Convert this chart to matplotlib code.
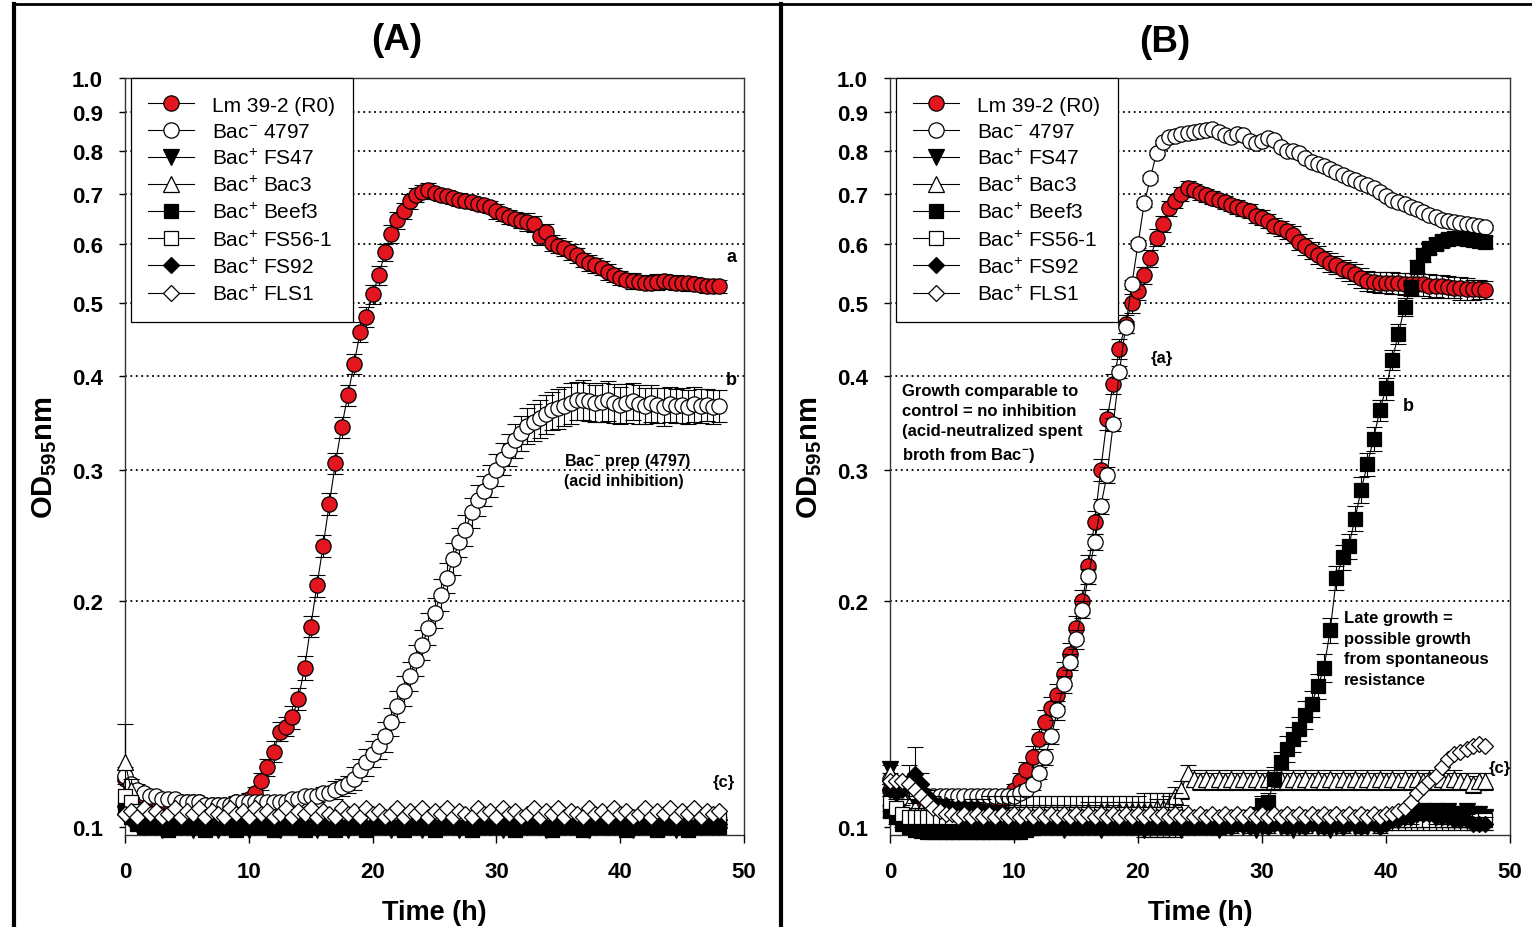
#!/usr/bin/env python3
# -*- coding: utf-8 -*-
# ----------------------------------------------------------------------------
# Growth curves of Lm 39-2 (R0) with spent broth preparations, two panels
# (A) and (B), OD595nm on a log axis versus time.
# ----------------------------------------------------------------------------

import matplotlib
matplotlib.use("Agg")
import matplotlib.pyplot as plt
import numpy as np
from matplotlib.lines import Line2D
from matplotlib.ticker import NullLocator

plt.rcParams["font.family"] = ["Liberation Sans", "DejaVu Sans"]
plt.rcParams["mathtext.fontset"] = "custom"
plt.rcParams["mathtext.rm"] = "Liberation Sans"
plt.rcParams["mathtext.bf"] = "Liberation Sans:bold"
plt.rcParams["mathtext.it"] = "Liberation Sans:italic"

# -----------------------------------------------------------------------------
# Data (sampling every 0.5 h, 0 .. 48 h)
# -----------------------------------------------------------------------------

TIME_H = np.arange(0, 48.5, 0.5)

LABELS = [
    "Lm 39-2 (R0)",
    r"Bac$^{-}$ 4797",
    r"Bac$^{+}$ FS47",
    r"Bac$^{+}$ Bac3",
    r"Bac$^{+}$ Beef3",
    r"Bac$^{+}$ FS56-1",
    r"Bac$^{+}$ FS92",
    r"Bac$^{+}$ FLS1",
]

Y_TICKS = [0.1, 0.2, 0.3, 0.4, 0.5, 0.6, 0.7, 0.8, 0.9, 1.0]
Y_TICK_LABELS = ["0.1", "0.2", "0.3", "0.4", "0.5", "0.6", "0.7", "0.8", "0.9", "1.0"]
GRID_VALUES = [0.2, 0.3, 0.4, 0.5, 0.6, 0.7, 0.8, 0.9]
X_TICKS = [0, 10, 20, 30, 40, 50]

# ---- panel (A) --------------------------------------------------------------
A_LM = [
    0.116, 0.113, 0.111, 0.110, 0.109, 0.109, 0.108, 0.108, 0.108, 0.108,
    0.108, 0.108, 0.108, 0.107, 0.107, 0.107, 0.107, 0.107, 0.108, 0.108,
    0.109, 0.111, 0.115, 0.120, 0.126, 0.134, 0.136, 0.140, 0.148, 0.163,
    0.185, 0.210, 0.237, 0.270, 0.306, 0.342, 0.377, 0.415, 0.458, 0.480,
    0.514, 0.545, 0.585, 0.619, 0.646, 0.664, 0.685, 0.697, 0.704, 0.708,
    0.702, 0.697, 0.695, 0.691, 0.688, 0.686, 0.683, 0.679, 0.676, 0.673,
    0.664, 0.658, 0.653, 0.649, 0.645, 0.642, 0.638, 0.616, 0.622, 0.602,
    0.597, 0.592, 0.586, 0.580, 0.572, 0.567, 0.562, 0.557, 0.551, 0.546,
    0.541, 0.538, 0.536, 0.534, 0.533, 0.533, 0.534, 0.536, 0.534, 0.533,
    0.533, 0.532, 0.531, 0.529, 0.528, 0.528, 0.527,
]
A_LM_ERR = [
    0.001, 0.001, 0.001, 0.001, 0.001, 0.001, 0.001, 0.001, 0.001, 0.001,
    0.001, 0.001, 0.001, 0.001, 0.001, 0.001, 0.001, 0.001, 0.002, 0.002,
    0.002, 0.002, 0.003, 0.003, 0.004, 0.004, 0.004, 0.005, 0.005, 0.006,
    0.006, 0.007, 0.008, 0.009, 0.010, 0.011, 0.012, 0.013, 0.014, 0.015,
    0.015, 0.016, 0.016, 0.017, 0.017, 0.016, 0.016, 0.015, 0.015, 0.015,
    0.012, 0.012, 0.013, 0.012, 0.014, 0.012, 0.013, 0.012, 0.012, 0.013,
    0.015, 0.013, 0.014, 0.013, 0.015, 0.018, 0.016, 0.017, 0.016, 0.015,
    0.014, 0.013, 0.014, 0.013, 0.012, 0.014, 0.013, 0.012, 0.013, 0.012,
    0.012, 0.011, 0.013, 0.012, 0.011, 0.012, 0.013, 0.012, 0.011, 0.012,
    0.011, 0.012, 0.011, 0.010, 0.011, 0.010, 0.010,
]
A_4797 = [
    0.117, 0.114, 0.112, 0.111, 0.110, 0.110, 0.109, 0.109, 0.109, 0.108,
    0.108, 0.108, 0.108, 0.107, 0.107, 0.107, 0.107, 0.107, 0.108, 0.108,
    0.108, 0.108, 0.108, 0.108, 0.108, 0.108, 0.108, 0.109, 0.109, 0.110,
    0.110, 0.110, 0.111, 0.111, 0.112, 0.113, 0.114, 0.116, 0.119, 0.122,
    0.125, 0.128, 0.132, 0.138, 0.145, 0.152, 0.159, 0.167, 0.175, 0.184,
    0.193, 0.204, 0.215, 0.228, 0.240, 0.249, 0.263, 0.273, 0.281, 0.290,
    0.300, 0.310, 0.319, 0.328, 0.336, 0.343, 0.347, 0.351, 0.356, 0.360,
    0.362, 0.365, 0.368, 0.371, 0.372, 0.370, 0.368, 0.369, 0.371, 0.368,
    0.366, 0.368, 0.370, 0.367, 0.365, 0.368, 0.366, 0.364, 0.367, 0.365,
    0.366, 0.364, 0.367, 0.365, 0.366, 0.364, 0.365,
]
A_4797_ERR = [
    0.003, 0.002, 0.002, 0.001, 0.001, 0.001, 0.001, 0.001, 0.001, 0.001,
    0.001, 0.001, 0.001, 0.001, 0.001, 0.001, 0.001, 0.001, 0.001, 0.001,
    0.001, 0.001, 0.001, 0.001, 0.001, 0.001, 0.001, 0.001, 0.001, 0.001,
    0.002, 0.002, 0.002, 0.002, 0.003, 0.003, 0.003, 0.004, 0.004, 0.005,
    0.005, 0.005, 0.006, 0.006, 0.007, 0.007, 0.007, 0.008, 0.008, 0.009,
    0.009, 0.010, 0.010, 0.011, 0.011, 0.012, 0.012, 0.013, 0.013, 0.014,
    0.015, 0.015, 0.016, 0.017, 0.018, 0.019, 0.020, 0.020, 0.021, 0.021,
    0.022, 0.022, 0.023, 0.022, 0.023, 0.022, 0.021, 0.022, 0.023, 0.022,
    0.021, 0.022, 0.021, 0.022, 0.020, 0.021, 0.020, 0.021, 0.020, 0.019,
    0.020, 0.019, 0.020, 0.019, 0.018, 0.019, 0.018,
]
A_FS47 = [
    0.104, 0.102, 0.101, 0.100, 0.101, 0.100, 0.099, 0.100, 0.101, 0.100,
    0.100, 0.099, 0.100, 0.101, 0.100, 0.099, 0.100, 0.100, 0.101, 0.100,
    0.099, 0.100, 0.101, 0.100, 0.100, 0.099, 0.101, 0.100, 0.100, 0.101,
    0.100, 0.099, 0.100, 0.101, 0.100, 0.100, 0.099, 0.100, 0.101, 0.100,
    0.100, 0.101, 0.100, 0.099, 0.100, 0.101, 0.100, 0.100, 0.099, 0.101,
    0.100, 0.100, 0.101, 0.100, 0.099, 0.100, 0.101, 0.100, 0.100, 0.101,
    0.100, 0.099, 0.100, 0.101, 0.100, 0.100, 0.101, 0.100, 0.099, 0.100,
    0.101, 0.100, 0.100, 0.101, 0.100, 0.099, 0.100, 0.101, 0.100, 0.100,
    0.101, 0.100, 0.099, 0.100, 0.101, 0.100, 0.100, 0.101, 0.100, 0.099,
    0.100, 0.101, 0.100, 0.100, 0.101, 0.100, 0.100,
]
A_BAC3 = [
    0.122, 0.112, 0.106, 0.104, 0.103, 0.103, 0.102, 0.103, 0.102, 0.102,
    0.103, 0.102, 0.102, 0.103, 0.102, 0.102, 0.103, 0.102, 0.102, 0.103,
    0.102, 0.103, 0.102, 0.102, 0.103, 0.102, 0.102, 0.103, 0.102, 0.103,
    0.102, 0.102, 0.103, 0.102, 0.102, 0.103, 0.102, 0.103, 0.102, 0.102,
    0.103, 0.102, 0.102, 0.103, 0.102, 0.102, 0.103, 0.102, 0.103, 0.102,
    0.102, 0.103, 0.102, 0.102, 0.103, 0.102, 0.102, 0.103, 0.102, 0.103,
    0.102, 0.102, 0.103, 0.102, 0.102, 0.103, 0.102, 0.103, 0.102, 0.102,
    0.103, 0.102, 0.102, 0.103, 0.102, 0.102, 0.103, 0.102, 0.103, 0.102,
    0.102, 0.103, 0.102, 0.102, 0.103, 0.102, 0.102, 0.103, 0.102, 0.103,
    0.102, 0.102, 0.103, 0.102, 0.102, 0.103, 0.102,
]
A_BAC3_ERR = [
    0.015, 0.004, 0.002, 0.001, 0.001, 0.001, 0.001, 0.001, 0.001, 0.001,
    0.001, 0.001, 0.001, 0.001, 0.001, 0.001, 0.001, 0.001, 0.001, 0.001,
    0.001, 0.001, 0.001, 0.001, 0.001, 0.001, 0.001, 0.001, 0.001, 0.001,
    0.001, 0.001, 0.001, 0.001, 0.001, 0.001, 0.001, 0.001, 0.001, 0.001,
    0.001, 0.001, 0.001, 0.001, 0.001, 0.001, 0.001, 0.001, 0.001, 0.001,
    0.001, 0.001, 0.001, 0.001, 0.001, 0.001, 0.001, 0.001, 0.001, 0.001,
    0.001, 0.001, 0.001, 0.001, 0.001, 0.001, 0.001, 0.001, 0.001, 0.001,
    0.001, 0.001, 0.001, 0.001, 0.001, 0.001, 0.001, 0.001, 0.001, 0.001,
    0.001, 0.001, 0.001, 0.001, 0.001, 0.001, 0.001, 0.001, 0.001, 0.001,
    0.001, 0.001, 0.001, 0.001, 0.001, 0.001, 0.001,
]
A_BEEF3 = [
    0.106, 0.103, 0.101, 0.100, 0.100, 0.101, 0.100, 0.099, 0.100, 0.100,
    0.101, 0.100, 0.100, 0.099, 0.100, 0.101, 0.100, 0.100, 0.099, 0.100,
    0.101, 0.100, 0.100, 0.100, 0.099, 0.100, 0.101, 0.100, 0.100, 0.099,
    0.100, 0.101, 0.100, 0.100, 0.099, 0.100, 0.100, 0.101, 0.100, 0.099,
    0.100, 0.100, 0.101, 0.100, 0.100, 0.099, 0.100, 0.101, 0.100, 0.100,
    0.099, 0.100, 0.100, 0.101, 0.100, 0.100, 0.099, 0.100, 0.101, 0.100,
    0.100, 0.101, 0.100, 0.099, 0.100, 0.100, 0.101, 0.100, 0.100, 0.099,
    0.100, 0.101, 0.100, 0.100, 0.099, 0.100, 0.101, 0.100, 0.100, 0.101,
    0.100, 0.099, 0.100, 0.101, 0.100, 0.100, 0.099, 0.100, 0.101, 0.100,
    0.100, 0.099, 0.101, 0.100, 0.100, 0.101, 0.100,
]
A_FS561 = [
    0.110, 0.108, 0.105, 0.103, 0.102, 0.102, 0.102, 0.103, 0.102, 0.102,
    0.102, 0.103, 0.102, 0.102, 0.102, 0.103, 0.102, 0.102, 0.102, 0.103,
    0.102, 0.102, 0.103, 0.102, 0.102, 0.102, 0.103, 0.102, 0.102, 0.102,
    0.103, 0.102, 0.102, 0.102, 0.103, 0.102, 0.102, 0.102, 0.103, 0.102,
    0.102, 0.102, 0.103, 0.102, 0.102, 0.102, 0.103, 0.102, 0.102, 0.102,
    0.103, 0.102, 0.102, 0.102, 0.103, 0.102, 0.102, 0.102, 0.103, 0.102,
    0.102, 0.102, 0.103, 0.102, 0.102, 0.102, 0.103, 0.102, 0.102, 0.102,
    0.103, 0.102, 0.102, 0.102, 0.103, 0.102, 0.102, 0.102, 0.103, 0.102,
    0.102, 0.102, 0.103, 0.102, 0.102, 0.102, 0.103, 0.102, 0.102, 0.102,
    0.103, 0.102, 0.102, 0.102, 0.103, 0.102, 0.102,
]
A_FS92 = [
    0.104, 0.102, 0.101, 0.101, 0.102, 0.101, 0.100, 0.101, 0.102, 0.101,
    0.101, 0.100, 0.101, 0.102, 0.101, 0.101, 0.100, 0.101, 0.102, 0.101,
    0.100, 0.101, 0.101, 0.102, 0.101, 0.100, 0.101, 0.101, 0.102, 0.101,
    0.100, 0.101, 0.102, 0.101, 0.101, 0.100, 0.101, 0.102, 0.101, 0.100,
    0.101, 0.101, 0.102, 0.101, 0.100, 0.101, 0.101, 0.102, 0.101, 0.101,
    0.100, 0.101, 0.102, 0.101, 0.100, 0.101, 0.101, 0.102, 0.101, 0.100,
    0.101, 0.102, 0.101, 0.101, 0.100, 0.101, 0.102, 0.101, 0.100, 0.101,
    0.101, 0.102, 0.101, 0.100, 0.101, 0.102, 0.101, 0.101, 0.100, 0.101,
    0.102, 0.101, 0.100, 0.101, 0.101, 0.102, 0.101, 0.100, 0.101, 0.102,
    0.101, 0.101, 0.100, 0.101, 0.102, 0.101, 0.101,
]
A_FLS1 = [
    0.104, 0.105, 0.103, 0.106, 0.104, 0.105, 0.103, 0.104, 0.106, 0.103,
    0.105, 0.104, 0.106, 0.103, 0.105, 0.104, 0.103, 0.106, 0.104, 0.105,
    0.103, 0.106, 0.104, 0.105, 0.103, 0.104, 0.106, 0.103, 0.105, 0.104,
    0.106, 0.103, 0.105, 0.104, 0.103, 0.106, 0.104, 0.105, 0.103, 0.106,
    0.104, 0.105, 0.103, 0.104, 0.106, 0.103, 0.105, 0.104, 0.106, 0.103,
    0.105, 0.104, 0.106, 0.103, 0.105, 0.104, 0.103, 0.106, 0.104, 0.105,
    0.103, 0.106, 0.104, 0.105, 0.103, 0.104, 0.106, 0.103, 0.105, 0.104,
    0.106, 0.103, 0.105, 0.104, 0.103, 0.106, 0.104, 0.105, 0.103, 0.106,
    0.104, 0.105, 0.103, 0.104, 0.106, 0.103, 0.105, 0.104, 0.106, 0.103,
    0.105, 0.104, 0.106, 0.103, 0.105, 0.104, 0.105,
]

# ---- panel (B) --------------------------------------------------------------
B_LM = [
    0.112, 0.110, 0.109, 0.109, 0.108, 0.108, 0.108, 0.108, 0.108, 0.108,
    0.108, 0.108, 0.108, 0.108, 0.108, 0.108, 0.108, 0.109, 0.109, 0.110,
    0.112, 0.115, 0.119, 0.124, 0.131, 0.138, 0.144, 0.150, 0.160, 0.170,
    0.184, 0.200, 0.223, 0.255, 0.300, 0.350, 0.390, 0.435, 0.470, 0.500,
    0.520, 0.545, 0.575, 0.612, 0.638, 0.670, 0.685, 0.700, 0.714, 0.708,
    0.702, 0.697, 0.692, 0.687, 0.682, 0.677, 0.673, 0.668, 0.665, 0.655,
    0.651, 0.645, 0.635, 0.630, 0.624, 0.618, 0.604, 0.596, 0.588, 0.580,
    0.573, 0.567, 0.563, 0.556, 0.552, 0.547, 0.541, 0.536, 0.534, 0.533,
    0.533, 0.532, 0.532, 0.531, 0.531, 0.530, 0.530, 0.528, 0.528, 0.527,
    0.526, 0.525, 0.524, 0.523, 0.522, 0.522, 0.521,
]
B_LM_ERR = [
    0.002, 0.002, 0.001, 0.001, 0.001, 0.001, 0.001, 0.001, 0.001, 0.001,
    0.001, 0.001, 0.001, 0.001, 0.001, 0.001, 0.001, 0.002, 0.002, 0.002,
    0.002, 0.003, 0.003, 0.004, 0.004, 0.005, 0.005, 0.005, 0.006, 0.006,
    0.007, 0.007, 0.008, 0.009, 0.010, 0.011, 0.012, 0.013, 0.013, 0.014,
    0.014, 0.015, 0.015, 0.016, 0.016, 0.016, 0.015, 0.015, 0.014, 0.014,
    0.014, 0.013, 0.014, 0.013, 0.014, 0.013, 0.014, 0.013, 0.014, 0.014,
    0.015, 0.014, 0.015, 0.014, 0.015, 0.016, 0.015, 0.016, 0.015, 0.016,
    0.015, 0.016, 0.015, 0.016, 0.016, 0.017, 0.016, 0.017, 0.016, 0.017,
    0.017, 0.018, 0.017, 0.018, 0.018, 0.019, 0.018, 0.019, 0.018, 0.019,
    0.018, 0.017, 0.018, 0.017, 0.016, 0.015, 0.014,
]
B_4797 = [
    0.116, 0.113, 0.112, 0.111, 0.111, 0.111, 0.110, 0.110, 0.110, 0.110,
    0.110, 0.110, 0.110, 0.110, 0.110, 0.110, 0.110, 0.110, 0.110, 0.110,
    0.110, 0.111, 0.112, 0.114, 0.118, 0.124, 0.132, 0.143, 0.155, 0.166,
    0.178, 0.195, 0.216, 0.240, 0.268, 0.295, 0.345, 0.405, 0.465, 0.530,
    0.600, 0.680, 0.735, 0.795, 0.822, 0.833, 0.837, 0.841, 0.845, 0.847,
    0.850, 0.852, 0.855, 0.848, 0.838, 0.835, 0.841, 0.840, 0.824, 0.820,
    0.824, 0.831, 0.826, 0.810, 0.800, 0.800, 0.794, 0.782, 0.773, 0.768,
    0.762, 0.756, 0.750, 0.741, 0.736, 0.730, 0.725, 0.720, 0.712, 0.704,
    0.695, 0.688, 0.683, 0.678, 0.673, 0.668, 0.662, 0.657, 0.652, 0.646,
    0.644, 0.642, 0.640, 0.638, 0.637, 0.635, 0.632,
]
B_4797_ERR = [
    0.002, 0.002, 0.001, 0.001, 0.001, 0.001, 0.001, 0.001, 0.001, 0.001,
    0.001, 0.001, 0.001, 0.001, 0.001, 0.001, 0.001, 0.001, 0.001, 0.001,
    0.001, 0.001, 0.002, 0.002, 0.002, 0.003, 0.003, 0.004, 0.004, 0.004,
    0.005, 0.005, 0.005, 0.006, 0.006, 0.007, 0.007, 0.008, 0.008, 0.008,
    0.008, 0.008, 0.007, 0.006, 0.005, 0.005, 0.004, 0.004, 0.004, 0.004,
    0.004, 0.004, 0.004, 0.004, 0.004, 0.004, 0.004, 0.004, 0.004, 0.004,
    0.004, 0.004, 0.004, 0.004, 0.004, 0.004, 0.004, 0.004, 0.004, 0.004,
    0.004, 0.004, 0.004, 0.004, 0.004, 0.004, 0.004, 0.004, 0.004, 0.004,
    0.004, 0.004, 0.004, 0.004, 0.004, 0.004, 0.004, 0.005, 0.005, 0.005,
    0.005, 0.005, 0.005, 0.005, 0.005, 0.005, 0.005,
]
B_FS47 = [
    0.1195, 0.113, 0.110, 0.106, 0.104, 0.103, 0.102, 0.101, 0.101, 0.100,
    0.100, 0.100, 0.101, 0.100, 0.100, 0.099, 0.100, 0.100, 0.101, 0.100,
    0.100, 0.100, 0.099, 0.100, 0.100, 0.101, 0.100, 0.100, 0.099, 0.100,
    0.100, 0.101, 0.100, 0.100, 0.099, 0.100, 0.100, 0.101, 0.100, 0.100,
    0.100, 0.099, 0.100, 0.100, 0.101, 0.100, 0.100, 0.099, 0.100, 0.100,
    0.101, 0.100, 0.100, 0.099, 0.100, 0.100, 0.101, 0.100, 0.100, 0.099,
    0.100, 0.100, 0.101, 0.100, 0.100, 0.099, 0.100, 0.100, 0.101, 0.100,
    0.100, 0.099, 0.100, 0.100, 0.101, 0.100, 0.100, 0.100, 0.101, 0.101,
    0.101, 0.102, 0.102, 0.103, 0.104, 0.104, 0.105, 0.104, 0.105, 0.104,
    0.105, 0.104, 0.104, 0.105, 0.104, 0.104, 0.103,
]
B_BAC3 = [
    0.118, 0.114, 0.110, 0.107, 0.106, 0.105, 0.105, 0.104, 0.104, 0.104,
    0.104, 0.104, 0.104, 0.104, 0.104, 0.104, 0.104, 0.104, 0.104, 0.104,
    0.104, 0.104, 0.104, 0.104, 0.104, 0.104, 0.104, 0.104, 0.104, 0.104,
    0.104, 0.104, 0.105, 0.104, 0.105, 0.105, 0.104, 0.105, 0.105, 0.105,
    0.105, 0.105, 0.105, 0.106, 0.106, 0.107, 0.110, 0.112, 0.118, 0.116,
    0.115, 0.116, 0.115, 0.116, 0.115, 0.116, 0.115, 0.116, 0.115, 0.116,
    0.115, 0.116, 0.115, 0.116, 0.115, 0.116, 0.115, 0.116, 0.115, 0.116,
    0.115, 0.116, 0.115, 0.116, 0.115, 0.116, 0.115, 0.116, 0.115, 0.116,
    0.115, 0.116, 0.115, 0.116, 0.115, 0.116, 0.115, 0.116, 0.115, 0.116,
    0.115, 0.116, 0.115, 0.115, 0.114, 0.115, 0.115,
]
B_BAC3_ERR = [
    0.003, 0.003, 0.003, 0.003, 0.003, 0.003, 0.003, 0.003, 0.003, 0.003,
    0.003, 0.003, 0.003, 0.003, 0.003, 0.003, 0.003, 0.003, 0.003, 0.003,
    0.003, 0.003, 0.003, 0.003, 0.003, 0.003, 0.003, 0.003, 0.003, 0.003,
    0.003, 0.003, 0.003, 0.003, 0.003, 0.003, 0.003, 0.003, 0.003, 0.003,
    0.003, 0.003, 0.003, 0.003, 0.003, 0.003, 0.003, 0.003, 0.003, 0.003,
    0.003, 0.003, 0.003, 0.003, 0.003, 0.003, 0.003, 0.003, 0.003, 0.003,
    0.003, 0.003, 0.003, 0.003, 0.003, 0.003, 0.003, 0.003, 0.003, 0.003,
    0.003, 0.003, 0.003, 0.003, 0.003, 0.003, 0.003, 0.003, 0.003, 0.003,
    0.003, 0.003, 0.003, 0.003, 0.003, 0.003, 0.003, 0.003, 0.003, 0.003,
    0.003, 0.003, 0.003, 0.003, 0.003, 0.003, 0.003,
]
B_BEEF3 = [
    0.105, 0.103, 0.101, 0.100, 0.099, 0.0988, 0.0985, 0.0985, 0.0985, 0.0985,
    0.0985, 0.0985, 0.0985, 0.0985, 0.0985, 0.0985, 0.0985, 0.0985, 0.0985, 0.0985,
    0.0985, 0.0985, 0.099, 0.0995, 0.100, 0.100, 0.100, 0.100, 0.100, 0.100,
    0.100, 0.100, 0.100, 0.101, 0.100, 0.100, 0.100, 0.101, 0.100, 0.100,
    0.100, 0.100, 0.101, 0.100, 0.100, 0.100, 0.101, 0.100, 0.100, 0.100,
    0.100, 0.101, 0.100, 0.100, 0.101, 0.101, 0.101, 0.102, 0.103, 0.104,
    0.107, 0.108, 0.116, 0.122, 0.127, 0.131, 0.135, 0.141, 0.146, 0.154,
    0.163, 0.183, 0.215, 0.229, 0.237, 0.258, 0.282, 0.305, 0.330, 0.360,
    0.385, 0.420, 0.455, 0.495, 0.525, 0.560, 0.580, 0.593, 0.600, 0.606,
    0.610, 0.611, 0.611, 0.610, 0.607, 0.605, 0.604,
]
B_BEEF3_ERR = [
    0.002, 0.002, 0.001, 0.001, 0.001, 0.001, 0.001, 0.001, 0.001, 0.001,
    0.001, 0.001, 0.001, 0.001, 0.001, 0.001, 0.001, 0.001, 0.001, 0.001,
    0.001, 0.001, 0.001, 0.001, 0.001, 0.001, 0.001, 0.001, 0.001, 0.001,
    0.001, 0.001, 0.001, 0.001, 0.001, 0.001, 0.001, 0.001, 0.001, 0.001,
    0.001, 0.001, 0.001, 0.001, 0.001, 0.001, 0.001, 0.001, 0.001, 0.001,
    0.001, 0.001, 0.001, 0.001, 0.001, 0.001, 0.001, 0.001, 0.002, 0.002,
    0.003, 0.003, 0.004, 0.004, 0.005, 0.005, 0.005, 0.006, 0.006, 0.006,
    0.007, 0.007, 0.008, 0.009, 0.009, 0.010, 0.011, 0.011, 0.012, 0.012,
    0.013, 0.013, 0.014, 0.014, 0.013, 0.012, 0.012, 0.011, 0.011, 0.011,
    0.011, 0.011, 0.011, 0.011, 0.011, 0.011, 0.011,
]
B_FS561 = [
    0.108, 0.106, 0.104, 0.103, 0.103, 0.103, 0.103, 0.103, 0.103, 0.103,
    0.103, 0.104, 0.104, 0.104, 0.104, 0.104, 0.104, 0.104, 0.104, 0.104,
    0.104, 0.104, 0.104, 0.104, 0.104, 0.104, 0.104, 0.104, 0.104, 0.104,
    0.104, 0.104, 0.104, 0.104, 0.104, 0.104, 0.104, 0.104, 0.104, 0.104,
    0.104, 0.104, 0.104, 0.104, 0.104, 0.104, 0.104, 0.103, 0.102, 0.102,
    0.102, 0.102, 0.102, 0.102, 0.102, 0.102, 0.102, 0.102, 0.102, 0.102,
    0.102, 0.102, 0.102, 0.102, 0.102, 0.102, 0.102, 0.102, 0.102, 0.102,
    0.102, 0.102, 0.102, 0.102, 0.102, 0.102, 0.102, 0.102, 0.102, 0.102,
    0.102, 0.102, 0.102, 0.102, 0.102, 0.102, 0.102, 0.102, 0.102, 0.102,
    0.102, 0.102, 0.102, 0.102, 0.102, 0.102, 0.102,
]
B_FS561_ERR = [
    0.003, 0.003, 0.003, 0.003, 0.003, 0.003, 0.003, 0.003, 0.003, 0.003,
    0.004, 0.004, 0.004, 0.005, 0.005, 0.005, 0.006, 0.006, 0.006, 0.006,
    0.006, 0.006, 0.006, 0.006, 0.006, 0.006, 0.006, 0.006, 0.006, 0.006,
    0.006, 0.006, 0.006, 0.006, 0.006, 0.006, 0.006, 0.006, 0.006, 0.006,
    0.006, 0.007, 0.007, 0.007, 0.007, 0.007, 0.007, 0.004, 0.003, 0.003,
    0.003, 0.003, 0.003, 0.003, 0.003, 0.003, 0.003, 0.003, 0.003, 0.003,
    0.003, 0.003, 0.003, 0.003, 0.003, 0.003, 0.003, 0.003, 0.003, 0.003,
    0.003, 0.003, 0.003, 0.003, 0.003, 0.003, 0.003, 0.003, 0.003, 0.003,
    0.003, 0.003, 0.003, 0.003, 0.003, 0.003, 0.003, 0.003, 0.003, 0.003,
    0.003, 0.003, 0.003, 0.003, 0.003, 0.003, 0.003,
]
B_FS92 = [
    0.112, 0.111, 0.112, 0.115, 0.1177, 0.114, 0.110, 0.108, 0.107, 0.107,
    0.106, 0.106, 0.106, 0.106, 0.106, 0.105, 0.105, 0.104, 0.104, 0.103,
    0.103, 0.102, 0.102, 0.101, 0.101, 0.101, 0.101, 0.101, 0.100, 0.101,
    0.101, 0.100, 0.101, 0.101, 0.100, 0.101, 0.101, 0.100, 0.101, 0.101,
    0.100, 0.101, 0.101, 0.100, 0.101, 0.101, 0.100, 0.101, 0.101, 0.100,
    0.101, 0.101, 0.100, 0.101, 0.101, 0.100, 0.101, 0.101, 0.100, 0.101,
    0.101, 0.100, 0.101, 0.101, 0.100, 0.101, 0.101, 0.100, 0.101, 0.101,
    0.100, 0.101, 0.101, 0.100, 0.101, 0.101, 0.100, 0.101, 0.101, 0.100,
    0.101, 0.102, 0.102, 0.103, 0.103, 0.104, 0.104, 0.104, 0.103, 0.103,
    0.103, 0.102, 0.102, 0.102, 0.101, 0.101, 0.101,
]
B_FS92_ERR = [
    0.002, 0.002, 0.003, 0.006, 0.010, 0.004, 0.002, 0.002, 0.002, 0.002,
    0.002, 0.002, 0.002, 0.002, 0.002, 0.002, 0.002, 0.002, 0.002, 0.002,
    0.002, 0.002, 0.002, 0.002, 0.002, 0.002, 0.002, 0.002, 0.002, 0.002,
    0.002, 0.002, 0.002, 0.002, 0.002, 0.002, 0.002, 0.002, 0.002, 0.002,
    0.002, 0.002, 0.002, 0.002, 0.002, 0.002, 0.002, 0.002, 0.002, 0.002,
    0.002, 0.002, 0.002, 0.002, 0.002, 0.002, 0.002, 0.002, 0.002, 0.002,
    0.002, 0.002, 0.002, 0.002, 0.002, 0.002, 0.002, 0.002, 0.002, 0.002,
    0.002, 0.002, 0.002, 0.002, 0.002, 0.002, 0.002, 0.002, 0.002, 0.002,
    0.002, 0.002, 0.002, 0.002, 0.002, 0.002, 0.002, 0.002, 0.002, 0.002,
    0.002, 0.002, 0.002, 0.002, 0.002, 0.002, 0.002,
]
B_FLS1 = [
    0.115, 0.115, 0.115, 0.114, 0.112, 0.110, 0.108, 0.106, 0.105, 0.104,
    0.104, 0.103, 0.104, 0.103, 0.104, 0.103, 0.104, 0.103, 0.104, 0.103,
    0.104, 0.103, 0.104, 0.103, 0.104, 0.103, 0.104, 0.103, 0.104, 0.103,
    0.104, 0.103, 0.104, 0.103, 0.104, 0.103, 0.104, 0.103, 0.104, 0.103,
    0.104, 0.103, 0.104, 0.103, 0.104, 0.103, 0.104, 0.103, 0.104, 0.103,
    0.104, 0.103, 0.104, 0.103, 0.104, 0.103, 0.104, 0.103, 0.104, 0.103,
    0.104, 0.103, 0.104, 0.103, 0.104, 0.103, 0.104, 0.103, 0.104, 0.103,
    0.104, 0.103, 0.104, 0.103, 0.104, 0.103, 0.104, 0.103, 0.104, 0.103,
    0.104, 0.104, 0.105, 0.106, 0.108, 0.111, 0.113, 0.115, 0.117, 0.120,
    0.123, 0.125, 0.126, 0.127, 0.128, 0.129, 0.128,
]

PANEL_A = [A_LM, A_4797, A_FS47, A_BAC3, A_BEEF3, A_FS561, A_FS92, A_FLS1]
PANEL_A_ERR = [A_LM_ERR, A_4797_ERR, None, A_BAC3_ERR, None, None, None, None]
PANEL_B = [B_LM, B_4797, B_FS47, B_BAC3, B_BEEF3, B_FS561, B_FS92, B_FLS1]
PANEL_B_ERR = [B_LM_ERR, B_4797_ERR, None, B_BAC3_ERR, B_BEEF3_ERR, B_FS561_ERR,
               B_FS92_ERR, None]

# -----------------------------------------------------------------------------
# Styles
# -----------------------------------------------------------------------------

MARKERS = ["o", "o", "v", "^", "s", "s", "D", "D"]
FACES = ["#e3161f", "white", "black", "white", "black", "white", "black", "white"]
SIZES = [11, 11, 11, 11, 9.5, 9.5, 8.5, 8.5]

FIG_W, FIG_H = 1532, 928


# -----------------------------------------------------------------------------
# Function : draw_panel
# -----------------------------------------------------------------------------
def draw_panel(ax, series, errors):
    for g in GRID_VALUES:
        ax.axhline(g, color="black", lw=1.3, ls=(0, (1, 2)), zorder=1)

    for idx, (label, values) in enumerate(zip(LABELS, series)):
        if len(values) != len(TIME_H):
            raise ValueError(f"{label}: {len(values)} values")
        z = 3 + idx
        err = errors[idx]
        if err is not None:
            if len(err) != len(TIME_H):
                raise ValueError(f"{label} err: {len(err)} values")
            eb = ax.errorbar(TIME_H, values, yerr=err, fmt="none", ecolor="black",
                             elinewidth=0.8, capsize=5.5, capthick=0.8, zorder=z)
            for art in eb.get_children():
                art.set_clip_on(False)
        ax.plot(TIME_H, values, color="black", lw=0.8, marker=MARKERS[idx],
                ms=SIZES[idx], mfc=FACES[idx], mec="black", mew=0.9,
                label=label, zorder=z + 0.5, clip_on=False)

    ax.set_yscale("log")
    ax.set_ylim(0.0975, 1.0)
    ax.set_xlim(0, 50)
    ax.set_yticks(Y_TICKS)
    ax.set_yticklabels(Y_TICK_LABELS)
    ax.yaxis.set_minor_locator(NullLocator())
    ax.set_xticks(X_TICKS)
    ax.set_xticklabels([str(v) for v in X_TICKS])
    ax.tick_params(axis="y", direction="out", length=4, width=1, labelsize=16, pad=12)
    ax.tick_params(axis="x", direction="out", length=6, width=1, labelsize=16, pad=13)
    for lbl in ax.get_xticklabels() + ax.get_yticklabels():
        lbl.set_fontweight("bold")
    for sp in ax.spines.values():
        sp.set_linewidth(1.0)
        sp.set_color("#333333")

    ax.set_xlabel("Time (h)", fontsize=19.5, fontweight="bold", labelpad=12)
    ax.set_ylabel(r"OD$_{\mathbf{595}}$nm", fontsize=21, fontweight="bold", labelpad=9)

    leg = ax.legend(loc="upper left", bbox_to_anchor=(0.009, 1.0), fontsize=15,
                    frameon=True, fancybox=False, framealpha=1, edgecolor="black",
                    handlelength=2.2, handletextpad=0.85, labelspacing=0.34,
                    borderpad=0.85, borderaxespad=0.0)
    leg.get_frame().set_linewidth(0.9)
    leg.set_zorder(20)


# -----------------------------------------------------------------------------
# Main
# -----------------------------------------------------------------------------
def main():
    fig = plt.figure(figsize=(FIG_W / 100, FIG_H / 100), dpi=100)
    bottom = 1 - 836 / FIG_H
    height = (836 - 79) / FIG_H
    ax_a = fig.add_axes([125 / FIG_W, bottom, (744 - 125) / FIG_W, height])
    ax_b = fig.add_axes([890 / FIG_W, bottom, (1510 - 890) / FIG_W, height])

    draw_panel(ax_a, PANEL_A, PANEL_A_ERR)
    draw_panel(ax_b, PANEL_B, PANEL_B_ERR)

    # panel (A) notes
    ax_a.text(49.0, 0.577, "a", fontsize=13, fontweight="bold", ha="center", va="center")
    ax_a.text(49.0, 0.396, "b", fontsize=13, fontweight="bold", ha="center", va="center")
    ax_a.text(48.4, 0.115, "{c}", fontsize=12, fontweight="bold", ha="center", va="center")
    ax_a.text(35.5, 0.300, "Bac$^{\\mathbf{-}}$ prep (4797)\n(acid inhibition)",
              fontsize=11.5, fontweight="bold", ha="left", va="center", linespacing=1.25)

    # panel (B) notes
    ax_b.text(21.9, 0.424, "{a}", fontsize=12, fontweight="bold", ha="center", va="center")
    ax_b.text(41.8, 0.365, "b", fontsize=13, fontweight="bold", ha="center", va="center")
    ax_b.text(49.2, 0.120, "{c}", fontsize=12, fontweight="bold", ha="center", va="center")
    ax_b.text(1.0, 0.392,
              "Growth comparable to\ncontrol = no inhibition\n(acid-neutralized spent\n"
              "broth from Bac$^{\\mathbf{-}}$)",
              fontsize=12, fontweight="bold", ha="left", va="top", linespacing=1.45)
    ax_b.text(36.6, 0.1945, "Late growth =\npossible growth\nfrom spontaneous\nresistance",
              fontsize=12, fontweight="bold", ha="left", va="top", linespacing=1.45)

    # panel titles
    fig.text(397 / FIG_W, 1 - 40 / FIG_H, "(A)", fontsize=26.5, fontweight="bold",
             ha="center", va="center")
    fig.text(1165 / FIG_W, 1 - 42 / FIG_H, "(B)", fontsize=26.5, fontweight="bold",
             ha="center", va="center")

    # outer frame lines
    for xs, ys, lw in [([14, 14], [5, FIG_H], 3.0),
                       ([781, 781], [5, FIG_H], 3.0),
                       ([13, FIG_W], [5, 5], 2.0)]:
        fig.add_artist(Line2D([x / FIG_W for x in xs], [1 - y / FIG_H for y in ys],
                              transform=fig.transFigure, color="black", lw=lw))

    fig.savefig("out.png", dpi=100)


if __name__ == "__main__":
    main()
